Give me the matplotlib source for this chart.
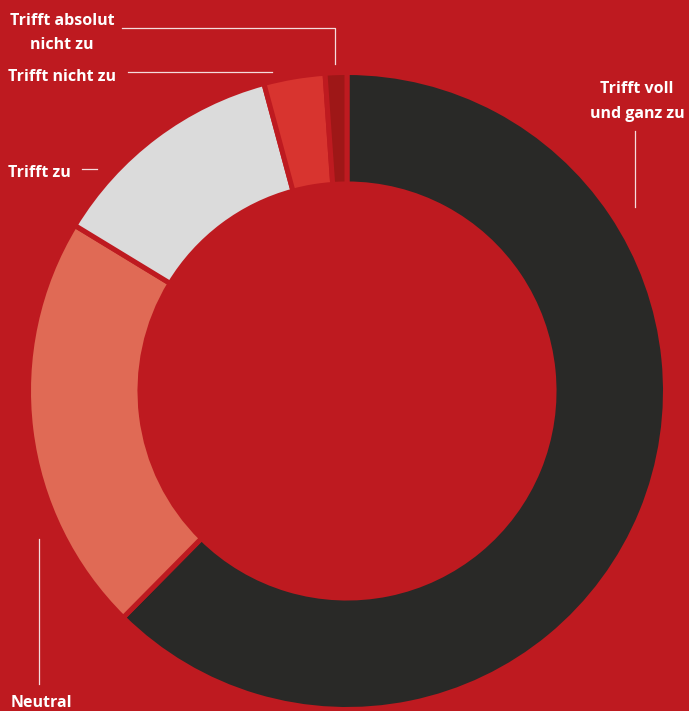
import matplotlib
matplotlib.use("Agg")
import matplotlib.pyplot as plt

# Antworten, im Uhrzeigersinn ab 12 Uhr
labels = ["Trifft voll\nund ganz zu", "Neutral", "Trifft zu",
          "Trifft nicht zu", "Trifft absolut\nnicht zu"]
values = [62.4, 21.3, 12.1, 3.1, 1.1]
colors = ["#292927", "#E06A55", "#DBDBDB", "#D8342F", "#9E1717"]

BG = "#BE1A20"
W, H = 689, 711

fig = plt.figure(figsize=(W / 100, H / 100), dpi=100, facecolor=BG)

# Donut
cx, cy, r = 347, 391, 318.5
ax = fig.add_axes([(cx - r) / W, (H - cy - r) / H, 2 * r / W, 2 * r / H])
ax.set_facecolor(BG)
ax.pie(values, colors=colors, startangle=90, counterclock=False, radius=1,
       wedgeprops=dict(width=0.35, edgecolor=BG, linewidth=3.6))
ax.set_xlim(-1, 1)
ax.set_ylim(-1, 1)
ax.set_aspect("equal")
ax.axis("off")

# Beschriftungen in Pixelkoordinaten
ov = fig.add_axes([0, 0, 1, 1], facecolor="none")
ov.set_xlim(0, W)
ov.set_ylim(H, 0)
ov.axis("off")

font = dict(color="white", fontsize=11.5, fontweight="bold", family="Open Sans",
            linespacing=1.7)
lc = dict(color="white", lw=0.9, alpha=0.85)

ov.text(62, 33, labels[4], ha="center", va="center", **font)
ov.plot([122, 335, 335], [28, 28, 64], **lc)

ov.text(8, 77, labels[3], ha="left", va="center", **font)
ov.plot([128, 272], [72, 72], **lc)

ov.text(8, 173, labels[2], ha="left", va="center", **font)
ov.plot([82, 97], [169, 169], **lc)

ov.text(637, 101.5, labels[0], ha="center", va="center", **font)
ov.plot([635, 635], [131, 207], **lc)

ov.text(11, 703, labels[1], ha="left", va="center", **font)
ov.plot([39, 39], [539, 684], **lc)

fig.savefig("out.png", dpi=100, facecolor=BG)
